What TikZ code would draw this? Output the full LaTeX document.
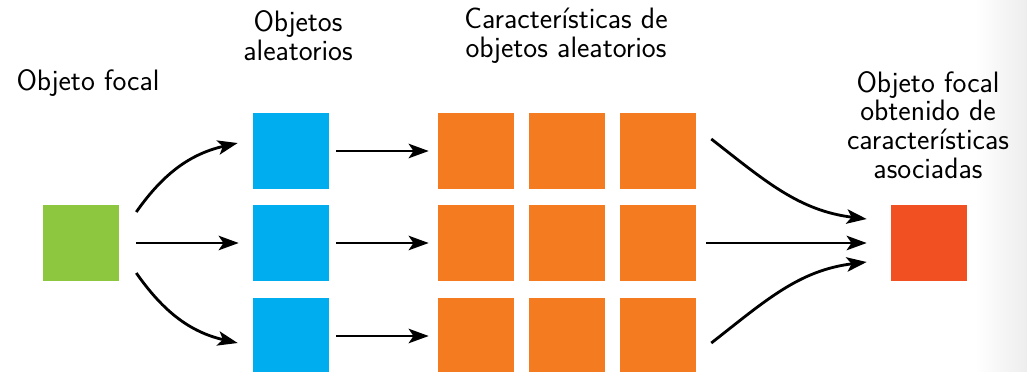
\documentclass[tikz,border=0pt]{standalone}
\usepackage{tikz}
\usetikzlibrary{arrows.meta}
\usepackage{xcolor}
\definecolor{focalgreen}{RGB}{141,198,63}
\definecolor{randblue}{RGB}{0,174,239}
\definecolor{featorange}{RGB}{244,123,32}
\definecolor{resultred}{RGB}{241,80,35}

\begin{document}
\begin{tikzpicture}[x=0.025cm, y=0.025cm,
    sq/.style={minimum size=1.9cm, inner sep=0pt, fill=#1},
    lbl/.style={font=\sffamily\fontsize{21}{20.5}\selectfont, align=center},
    arr/.style={-{Stealth[length=0.5cm, width=0.36cm, inset=0.12cm]}, line width=2pt}]
    \useasboundingbox (0,0) rectangle (1027,-371);
    \clip (0,0) rectangle (1027,-371);
    \shade[left color=white, right color=black!7] (975,0) rectangle (1027,-371);
    % squares
    \node[sq=focalgreen] (g) at (81,-243) {};
    \node[sq=randblue] (b1) at (291,-151) {};
    \node[sq=randblue] (b2) at (291,-243) {};
    \node[sq=randblue] (b3) at (291,-336) {};
    \foreach \r/\y in {1/-151, 2/-243, 3/-336} {
      \node[sq=featorange] (o\r1) at (476,\y) {};
      \node[sq=featorange] (o\r2) at (567,\y) {};
      \node[sq=featorange] (o\r3) at (658,\y) {};
    }
    \node[sq=resultred] (r) at (929,-243) {};
    % labels
    \node[lbl] (tg) at (88,-83) {Objeto focal};
    \node[lbl] (tb) at (298,-36) {Objetos\\aleatorios};
    \node[lbl] (to) at (566,-36) {Características de\\objetos aleatorios};
    \node[lbl] (tr) at (928,-125) {Objeto focal\\obtenido de\\características\\asociadas};
    % arrows
    \draw[arr] ([shift={(17,31)}]g.east) to[out=55, in=193] ([shift={(-15,8)}]b1.west);
    \draw[arr, shorten <=0.425cm, shorten >=0.35cm] (g.east) -- (b2.west);
    \draw[arr] ([shift={(17,-30)}]g.east) to[out=-55, in=167] ([shift={(-15,-7)}]b3.west);
    \foreach \r in {1,2,3}
      \draw[arr, shorten <=0.175cm, shorten >=0.225cm] (b\r.east) -- (o\r1.west);
    \draw[arr] ([shift={(15,12)}]o13.east) to[out=-38, in=173] ([shift={(-24,24)}]r.west);
    \draw[arr, shorten <=0.25cm, shorten >=0.6cm] (o23.east) -- (r.west);
    \draw[arr] ([shift={(15,-7)}]o33.east) to[out=38, in=187] ([shift={(-24,-19)}]r.west);
  \end{tikzpicture}
\end{document}
